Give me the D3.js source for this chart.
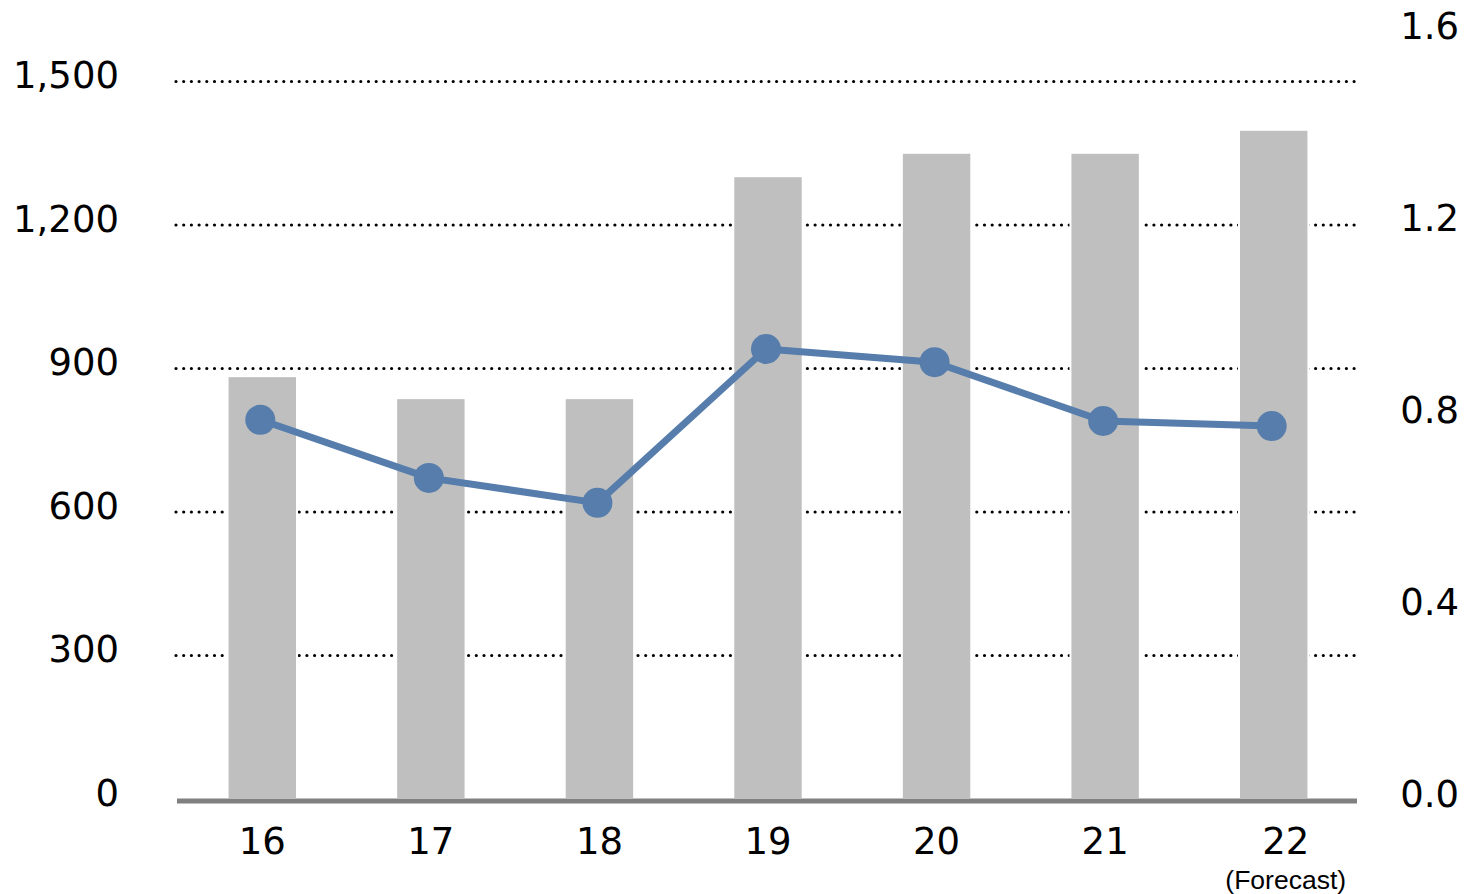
<!DOCTYPE html>
<html>
<head>
<meta charset="utf-8">
<script src="https://cdn.jsdelivr.net/npm/d3@7"></script>
<style>
  html, body { margin: 0; padding: 0; background: #fff; }
  svg { display: block; }
</style>
</head>
<body>
<div id="chart"></div>
<script>
const WIDTH = 1464
const HEIGHT = 894

// data
const years = ['16', '17', '18', '19', '20', '21', '22'];
const barValues = [884, 838, 838, 1302, 1351, 1351, 1399];
const lineValues = [0.79, 0.669, 0.617, 0.9375, 0.91, 0.7875, 0.777];
const leftTicks = [0, 300, 600, 900, 1200, 1500];
const rightTicks = [0.0, 0.4, 0.8, 1.2, 1.6];
const yearNotes = ['', '', '', '', '', '', '(Forecast)'];

var svg = d3.select("#chart").append("svg")
    .attr("width", WIDTH)
    .attr("height", HEIGHT);

var xScale = d3.scaleBand()
    .domain(years)
    .range([178, 1358])
    .paddingInner(0.6)
    .paddingOuter(0.3);

var yLeft = d3.scaleLinear()
    .domain([0, 1500])
    .range([799, 81.5]);

var yRight = d3.scaleLinear()
    .domain([0, 1.6])
    .range([799, 31]);

// dotted gridlines
svg.append("g")
    .selectAll("line")
    .data(leftTicks.filter(d => d > 0))
    .enter()
    .append("line")
        .attr("x1", 176)
        .attr("x2", 1357)
        .attr("y1", d => yLeft(d))
        .attr("y2", d => yLeft(d))
        .attr("stroke", "#000")
        .attr("stroke-width", 3.2)
        .attr("stroke-linecap", "round")
        .attr("stroke-dasharray", "0,7.7");

// bars
svg.append("g")
    .selectAll("rect")
    .data(barValues)
    .enter()
    .append("rect")
        .attr("x", (d, i) => xScale(years[i]) - 1)
        .attr("width", xScale.bandwidth() + 2)
        .attr("y", d => yLeft(d))
        .attr("height", d => yLeft(0) - yLeft(d))
        .attr("fill", "#bfbfbf")
        .attr("stroke", "#fff")
        .attr("stroke-width", 2);

// baseline
svg.append("line")
    .attr("x1", 177)
    .attr("x2", 1357)
    .attr("y1", yLeft(0) + 2)
    .attr("y2", yLeft(0) + 2)
    .attr("stroke", "#808080")
    .attr("stroke-width", 5);

// line series
var lineX = (d, i) => xScale(years[i]) + xScale.bandwidth() / 2 - 2;

var line = d3.line()
    .x(lineX)
    .y(d => yRight(d));

svg.append("path")
    .datum(lineValues)
    .attr("fill", "none")
    .attr("stroke", "#567dab")
    .attr("stroke-width", 7)
    .attr("stroke-linejoin", "round")
    .attr("d", line);

svg.append("g")
    .selectAll("circle")
    .data(lineValues)
    .enter()
    .append("circle")
        .attr("cx", lineX)
        .attr("cy", d => yRight(d))
        .attr("r", 15)
        .attr("fill", "#567dab");

// left axis labels
svg.append("g")
    .attr("font-family", "DejaVu Sans, Verdana, sans-serif")
    .attr("font-size", "37px")
    .attr("fill", "#000")
    .attr("text-anchor", "end")
    .selectAll("text")
    .data(leftTicks)
    .enter()
    .append("text")
        .attr("x", 119)
        .attr("y", d => yLeft(d) - 6)
        .attr("dy", "0.35em")
        .text(d => d3.format(",")(d));

// right axis labels
svg.append("g")
    .attr("font-family", "DejaVu Sans, Verdana, sans-serif")
    .attr("font-size", "37px")
    .attr("fill", "#000")
    .attr("text-anchor", "end")
    .selectAll("text")
    .data(rightTicks)
    .enter()
    .append("text")
        .attr("x", 1459)
        .attr("y", d => yRight(d) - 5)
        .attr("dy", "0.35em")
        .text(d => d3.format(".1f")(d));

// x labels
var xLabels = svg.append("g")
    .attr("fill", "#000")
    .attr("text-anchor", "middle")
    .selectAll("g")
    .data(years)
    .enter()
    .append("g")
        .attr("transform", (d, i) => `translate(${xScale(d) + xScale.bandwidth() / 2 + (yearNotes[i] ? 12 : 0)},0)`);

xLabels.append("text")
    .attr("y", 854)
    .attr("font-family", "DejaVu Sans, Verdana, sans-serif")
    .attr("font-size", "37px")
    .text(d => d);

xLabels.append("text")
    .attr("y", 889)
    .attr("font-family", "Liberation Sans, Arial, sans-serif")
    .attr("font-size", "26.5px")
    .text((d, i) => yearNotes[i]);
</script>
</body>
</html>
